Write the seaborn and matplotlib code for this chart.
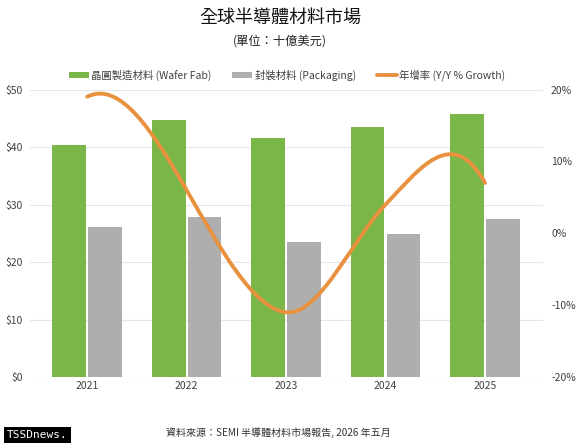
import numpy as np
import pandas as pd
import matplotlib
matplotlib.use('Agg')
import matplotlib.pyplot as plt
import seaborn as sns
from matplotlib.path import Path
from matplotlib.patches import PathPatch, Patch
from matplotlib.lines import Line2D

# ---------------- data ----------------
years = ['2021', '2022', '2023', '2024', '2025']
wafer_fab = [40.4, 44.7, 41.5, 43.5, 45.8]
packaging = [26.1, 27.9, 23.4, 24.9, 27.4]
growth = [19.0, 6.0, -11.0, 4.0, 7.0]

series_names = ['晶圓製造材料 (Wafer Fab)', '封裝材料 (Packaging)']
line_name = '年增率 (Y/Y % Growth)'
left_ticks = [0, 10, 20, 30, 40, 50]
left_tick_labels = [r'\$0', r'\$10', r'\$20', r'\$30', r'\$40', r'\$50']
right_ticks = [-20, -10, 0, 10, 20]
right_tick_labels = ['-20%', '-10%', '0%', '10%', '20%']
title = '全球半導體材料市場'
subtitle = '(單位：十億美元)'
source = '資料來源：SEMI 半導體材料市場報告, 2026 年五月'
watermark = 'TSSDnews.'

# ---------------- style ----------------
GREEN = '#7AB648'
GRAY = '#AEAEAE'
ORANGE = '#E8913F'
TEXT = '#404040'
TENSION = 1.6
END_SLOPES = (7.0, -25.0)

sns.set_theme(style='white')
plt.rcParams['font.family'] = ['Noto Sans CJK TC', 'DejaVu Sans']

df = pd.DataFrame({
    'year': years * 2,
    'series': [series_names[0]] * len(years) + [series_names[1]] * len(years),
    'value': wafer_fab + packaging,
})

fig = plt.figure(figsize=(5.8, 4.45), dpi=100)
ax = fig.add_axes([0.0517, 0.1528, 0.884, 0.646])

sns.barplot(data=df, x='year', y='value', hue='series', hue_order=series_names,
            palette=[GREEN, GRAY], width=0.72, gap=0.06, saturation=1,
            linewidth=0, legend=False, ax=ax, zorder=2)

ax.set_ylim(0, 50)
ax.set_xlim(-0.575, 4.58)
ax.set_yticks(left_ticks)
ax.set_yticklabels(left_tick_labels)
ax.set_xlabel('')
ax.set_ylabel('')
ax.set_axisbelow(True)
ax.yaxis.grid(True, color='#E6E6E6', linewidth=0.8)
ax.xaxis.grid(False)
for s in ax.spines.values():
    s.set_visible(False)
ax.tick_params(axis='y', length=0, pad=5, labelsize=7.5, labelcolor=TEXT)
ax.tick_params(axis='x', length=0, pad=3, labelsize=7.5, labelcolor=TEXT)

ax2 = ax.twinx()
ax2.set_ylim(-20, 20)
ax2.set_yticks(right_ticks)
ax2.set_yticklabels(right_tick_labels)
ax2.grid(False)
for s in ax2.spines.values():
    s.set_visible(False)
ax2.tick_params(axis='y', length=0, pad=6, labelsize=7.5, labelcolor=TEXT)

# smooth growth line (cubic Bezier through the yearly values)
g = np.asarray(growth, dtype=float)
n = len(g)
m = np.zeros(n)
for i in range(1, n - 1):
    m[i] = TENSION * (g[i + 1] - g[i - 1]) / 2.0
m[0], m[-1] = END_SLOPES
verts = [(0, g[0])]
codes = [Path.MOVETO]
for i in range(n - 1):
    verts += [(i + 1 / 3, g[i] + m[i] / 3), (i + 2 / 3, g[i + 1] - m[i + 1] / 3), (i + 1, g[i + 1])]
    codes += [Path.CURVE4] * 3
ax2.add_patch(PathPatch(Path(verts, codes), fill=False, edgecolor=ORANGE,
                        linewidth=2.8, capstyle='round', zorder=3))

# legend
handles = [Patch(facecolor=GREEN, edgecolor='none'),
           Patch(facecolor=GRAY, edgecolor='none'),
           Line2D([0], [0], color=ORANGE, linewidth=2.8)]
fig.legend(handles, series_names + [line_name], loc='center',
           bbox_to_anchor=(0.495, 0.831), ncol=3, frameon=False,
           fontsize=7.5, handlelength=1.9, handleheight=0.6,
           handletextpad=0.25, columnspacing=2.0, labelcolor=TEXT)

fig.text(0.483, 0.961, title, ha='center', va='center', fontsize=13, color='#111111')
fig.text(0.483, 0.908, subtitle, ha='center', va='center', fontsize=8.8, color='#222222')
fig.text(0.479, 0.027, source, ha='center', va='center', fontsize=7.2, color='#333333')
fig.text(0.012, 0.0225, watermark, ha='left', va='center', fontsize=8,
         family='DejaVu Sans Mono', color='white',
         bbox=dict(facecolor='black', edgecolor='none', pad=2.5))

fig.savefig('out.png', dpi=100, facecolor='white')
